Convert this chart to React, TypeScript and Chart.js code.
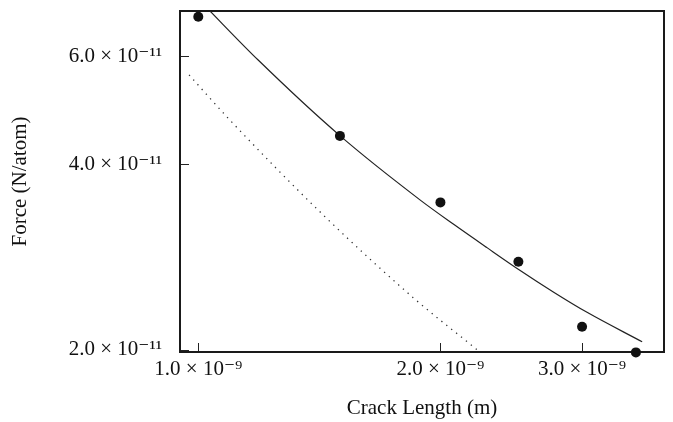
import React, { useEffect, useRef } from "react";
import { Chart, registerables } from "chart.js";

Chart.register(...registerables);

// Measured data points (crack length in m, force in N/atom)
const crackLengths = [1.0e-9, 1.5e-9, 2.0e-9, 2.5e-9, 3.0e-9, 3.5e-9];
const measuredForce = [6.95e-11, 4.45e-11, 3.47e-11, 2.78e-11, 2.18e-11, 1.98e-11];

// Solid fitted curve
const fitLength = [1.02e-9, 1.187e-9, 1.501e-9, 1.888e-9, 2.075e-9, 2.285e-9, 2.513e-9, 2.766e-9, 3.043e-9, 3.563e-9];
const fitForce = [7.23e-11, 5.91e-11, 4.45e-11, 3.5e-11, 3.2e-11, 2.93e-11, 2.69e-11, 2.48e-11, 2.3e-11, 2.06e-11];

// Dotted theory curve
const theoryLength = [0.974e-9, 1.095e-9, 1.43e-9, 1.85e-9, 2.221e-9];
const theoryForce = [5.59e-11, 4.72e-11, 3.31e-11, 2.43e-11, 2.0e-11];

// Axes
const xTickValues = [1e-9, 2e-9, 3e-9];
const xTickLabels = ["1.0 × 10⁻⁹", "2.0 × 10⁻⁹", "3.0 × 10⁻⁹"];
const yTickValues = [2e-11, 4e-11, 6e-11];
const yTickLabels = ["2.0 × 10⁻¹¹", "4.0 × 10⁻¹¹", "6.0 × 10⁻¹¹"];
const xRange = [0.949e-9, 3.793e-9];
const yRange = [1.983e-11, 7.1e-11];
const xTitle = "Crack Length (m)";
const yTitle = "Force (N/atom)";

const toXY = (xs: number[], ys: number[]) => xs.map((x, i) => ({ x, y: ys[i] }));

const findLabel = (values: number[], labels: string[], v: number) => {
  const i = values.findIndex((t) => Math.abs(t - v) / t < 1e-6);
  return i >= 0 ? labels[i] : "";
};

const framePlugin = {
  id: "frameTicks",
  beforeDatasetsDraw(chart: any) {
    const { ctx, chartArea: a, scales } = chart;
    ctx.save();
    ctx.strokeStyle = "#222";
    ctx.lineWidth = 1;
    ctx.beginPath();
    scales.x.ticks.forEach((t: any) => {
      const px = Math.round(scales.x.getPixelForValue(t.value)) + 0.5;
      ctx.moveTo(px, a.bottom);
      ctx.lineTo(px, a.bottom - 9);
    });
    scales.y.ticks.forEach((t: any) => {
      const py = Math.round(scales.y.getPixelForValue(t.value)) + 0.5;
      ctx.moveTo(a.left, py);
      ctx.lineTo(a.left + 9, py);
    });
    ctx.stroke();
    ctx.lineWidth = 2;
    ctx.strokeStyle = "#1a1a1a";
    ctx.strokeRect(a.left, a.top, a.right - a.left, a.bottom - a.top);
    ctx.restore();
  },
};

export default function App() {
  const canvasRef = useRef<HTMLCanvasElement | null>(null);

  useEffect(() => {
    if (!canvasRef.current) return;
    const font = { family: "'Liberation Serif', 'DejaVu Serif', serif", size: 21 };
    const chart = new Chart(canvasRef.current, {
      type: "line",
      data: {
        datasets: [
          {
            label: "Measured",
            data: toXY(crackLengths, measuredForce),
            showLine: false,
            pointRadius: 5,
            pointHoverRadius: 5,
            pointBackgroundColor: "#111",
            pointBorderColor: "#111",
            pointBorderWidth: 0,
            clip: false as any,
          },
          {
            label: "Fit",
            data: toXY(fitLength, fitForce),
            borderColor: "#222",
            borderWidth: 1.2,
            pointRadius: 0,
            cubicInterpolationMode: "monotone",
            fill: false,
          },
          {
            label: "Theory",
            data: toXY(theoryLength, theoryForce),
            borderColor: "#333",
            borderWidth: 1.3,
            borderDash: [1.3, 5],
            pointRadius: 0,
            cubicInterpolationMode: "monotone",
            fill: false,
          },
        ],
      },
      options: {
        animation: false,
        responsive: true,
        maintainAspectRatio: false,
        layout: { padding: { top: 11, right: 9, left: 0, bottom: 0 } },
        plugins: {
          legend: { display: false },
          tooltip: { enabled: false },
        },
        scales: {
          x: {
            type: "logarithmic",
            position: "bottom",
            min: xRange[0],
            max: xRange[1],
            grid: { display: false, drawTicks: false },
            border: { display: false },
            afterBuildTicks: (scale: any) => {
              scale.ticks = xTickValues.map((v) => ({ value: v }));
            },
            afterFit: (scale: any) => {
              scale.height = 70;
              scale.paddingLeft = 0;
              scale.paddingRight = 0;
            },
            ticks: {
              font,
              color: "#111",
              padding: 5,
              maxRotation: 0,
              autoSkip: false,
              callback: (v: any) => findLabel(xTickValues, xTickLabels, Number(v)),
            },
            title: {
              display: true,
              text: xTitle,
              font,
              color: "#111",
              padding: { top: 0, bottom: 1 },
            },
          },
          y: {
            type: "logarithmic",
            position: "left",
            min: yRange[0],
            max: yRange[1],
            grid: { display: false, drawTicks: false },
            border: { display: false },
            afterBuildTicks: (scale: any) => {
              scale.ticks = yTickValues.map((v) => ({ value: v }));
            },
            afterFit: (scale: any) => {
              scale.width = 180;
              scale.paddingTop = 0;
              scale.paddingBottom = 0;
            },
            ticks: {
              font,
              color: "#111",
              padding: 18,
              autoSkip: false,
              callback: (v: any) => findLabel(yTickValues, yTickLabels, Number(v)),
            },
            title: {
              display: true,
              text: yTitle,
              font,
              color: "#111",
              padding: { top: 8, bottom: 0 },
            },
          },
        },
      } as any,
      plugins: [framePlugin],
    });
    return () => chart.destroy();
  }, []);

  return (
    <div style={{ position: "fixed", left: 0, top: 0, width: 673, height: 422, background: "#fff" }}>
      <canvas ref={canvasRef} />
    </div>
  );
}
